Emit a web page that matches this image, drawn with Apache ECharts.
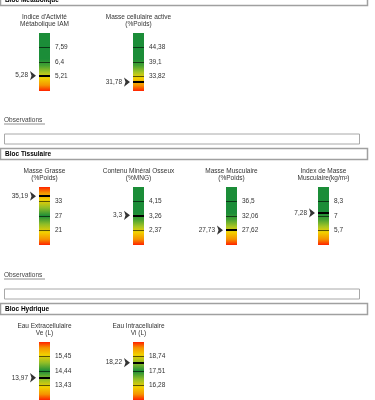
<!DOCTYPE html>
<html>
<head>
<meta charset="utf-8">
<script src="https://cdn.jsdelivr.net/npm/echarts@6/dist/echarts.min.js"></script>
<style>
  html, body { margin: 0; padding: 0; background: #fff; }
  #chart { width: 375px; height: 400px; }
</style>
</head>
<body>
<div id="chart"></div>
<script>
// gauges in reading order
var blocks = ['Bloc Métabolique', 'Bloc Tissulaire', 'Bloc Hydrique'];
var titles = [
    "Indice d'Activité\nMétabolique IAM",
    'Masse cellulaire active\n(%Poids)',
    'Masse Grasse\n(%Poids)',
    'Contenu Minéral Osseux\n(%MNG)',
    'Masse Musculaire\n(%Poids)',
    'Index de Masse\nMusculaire(kg/m²)',
    'Eau Extracellulaire\nVe (L)',
    'Eau Intracellulaire\nVi (L)'
];
var ticks = [
    [7.59, 6.4, 5.21],
    [44.38, 39.1, 33.82],
    [33, 27, 21],
    [4.15, 3.26, 2.37],
    [36.5, 32.06, 27.62],
    [8.3, 7, 5.7],
    [15.45, 14.44, 13.43],
    [18.74, 17.51, 16.28]
];
var values = [5.28, 31.78, 35.19, 3.3, 27.73, 7.28, 13.97, 18.22];
var scales = ['high', 'high', 'mid', 'high', 'high', 'high', 'mid', 'mid'];
var rows = [0, 0, 1, 1, 1, 1, 2, 2];
var cols = [0, 1, 0, 1, 2, 3, 0, 1];

// layout
var colX = [39, 133, 226, 318];
var barTop = [33, 187, 342];
var barW = 11, barH = 58;
var FONT = 'Liberation Sans';

var gradStops = {
    high: [
        {offset: 0, color: '#1b8d38'},
        {offset: 0.45, color: '#1b8d38'},
        {offset: 0.56, color: '#45a232'},
        {offset: 0.68, color: '#a6c524'},
        {offset: 0.78, color: '#f2d000'},
        {offset: 0.9, color: '#f59400'},
        {offset: 1, color: '#ff2200'}
    ],
    mid: [
        {offset: 0, color: '#ff2200'},
        {offset: 0.1, color: '#f59400'},
        {offset: 0.22, color: '#f2d000'},
        {offset: 0.36, color: '#8fbd28'},
        {offset: 0.5, color: '#1b8d38'},
        {offset: 0.64, color: '#8fbd28'},
        {offset: 0.78, color: '#f2d000'},
        {offset: 0.9, color: '#f59400'},
        {offset: 1, color: '#ff2200'}
    ]
};

function fmt(v) {
    return String(v).replace('.', ',');
}

var grids = [], xAxes = [], yAxes = [], series = [], graphics = [];

titles.forEach(function (t, i) {
    var tk = ticks[i];
    var step = tk[0] - tk[1];
    var lo = tk[2] - step;
    var hi = tk[0] + step;
    var left = colX[cols[i]];
    var top = barTop[rows[i]];

    grids.push({left: left, top: top, width: barW, height: barH});
    xAxes.push({gridIndex: i, type: 'value', min: 0, max: 1, show: false});
    yAxes.push({gridIndex: i, type: 'value', min: lo, max: hi, show: false});

    var grad = new echarts.graphic.LinearGradient(0, 0, 0, 1, gradStops[scales[i]]);

    // colour band
    series.push({
        type: 'custom',
        xAxisIndex: i,
        yAxisIndex: i,
        silent: true,
        z: 2,
        data: [[0, lo, hi]],
        renderItem: function (params, api) {
            var p0 = api.coord([0, api.value(2)]);
            var p1 = api.coord([1, api.value(1)]);
            return {
                type: 'rect',
                shape: {x: p0[0], y: p0[1], width: p1[0] - p0[0], height: p1[1] - p0[1]},
                style: {fill: grad}
            };
        }
    });

    var lines = tk.map(function (v) {
        return {
            yAxis: v,
            lineStyle: {color: 'rgba(0,0,0,0.6)', width: 1, type: 'solid'},
            label: {position: 'end', distance: 5, formatter: fmt(v)}
        };
    });
    lines.push({
        yAxis: values[i],
        lineStyle: {color: '#000', width: 2, type: 'solid'},
        label: {position: 'start', distance: 11, formatter: fmt(values[i])}
    });

    // measured value: arrow + line
    series.push({
        type: 'scatter',
        xAxisIndex: i,
        yAxisIndex: i,
        silent: true,
        z: 3,
        symbol: 'arrow',
        symbolRotate: -90,
        symbolSize: [7, 6],
        symbolOffset: [-3, 0],
        itemStyle: {color: '#000'},
        data: [[0, values[i]]],
        markLine: {
            silent: true,
            symbol: 'none',
            animation: false,
            label: {color: '#333', fontSize: 6.5, fontFamily: FONT},
            data: lines
        }
    });

    graphics.push({
        type: 'text',
        x: left + barW / 2,
        y: top - 12.5,
        style: {
            text: t, align: 'center', verticalAlign: 'middle',
            fontSize: 6.5, lineHeight: 7, fontFamily: FONT, fill: '#333'
        }
    });
});

// block headers and observation boxes
blocks.forEach(function (b, r) {
    var hy = barTop[r] - 38.5;
    graphics.push({
        type: 'rect',
        shape: {x: 0.5, y: hy, width: 367, height: 11},
        style: {fill: '#fff', stroke: '#a0a0a0', lineWidth: 1.5}
    });
    graphics.push({
        type: 'text', x: 5, y: hy + 5.5,
        style: {
            text: b, verticalAlign: 'middle', fontSize: 6.5,
            fontWeight: 'bold', fontFamily: FONT, fill: '#000'
        }
    });
    if (r > 0) {
        graphics.push({
            type: 'text', x: 4, y: hy - 28,
            style: {text: 'Observations', verticalAlign: 'middle', fontSize: 6.5, fontFamily: FONT, fill: '#444'}
        });
        graphics.push({
            type: 'line', shape: {x1: 4, y1: hy - 24.5, x2: 45, y2: hy - 24.5},
            style: {stroke: '#444', lineWidth: 0.6}
        });
        graphics.push({
            type: 'rect', shape: {x: 4.5, y: hy - 14.5, width: 355, height: 10},
            style: {fill: '#fff', stroke: '#a8a8a8', lineWidth: 1}
        });
    }
});

var myChart = echarts.init(document.getElementById('chart'));

var option = {
    backgroundColor: '#fff',
    animation: false,
    grid: grids,
    xAxis: xAxes,
    yAxis: yAxes,
    series: series,
    graphic: graphics
};

myChart.setOption(option);
</script>
</body>
</html>
